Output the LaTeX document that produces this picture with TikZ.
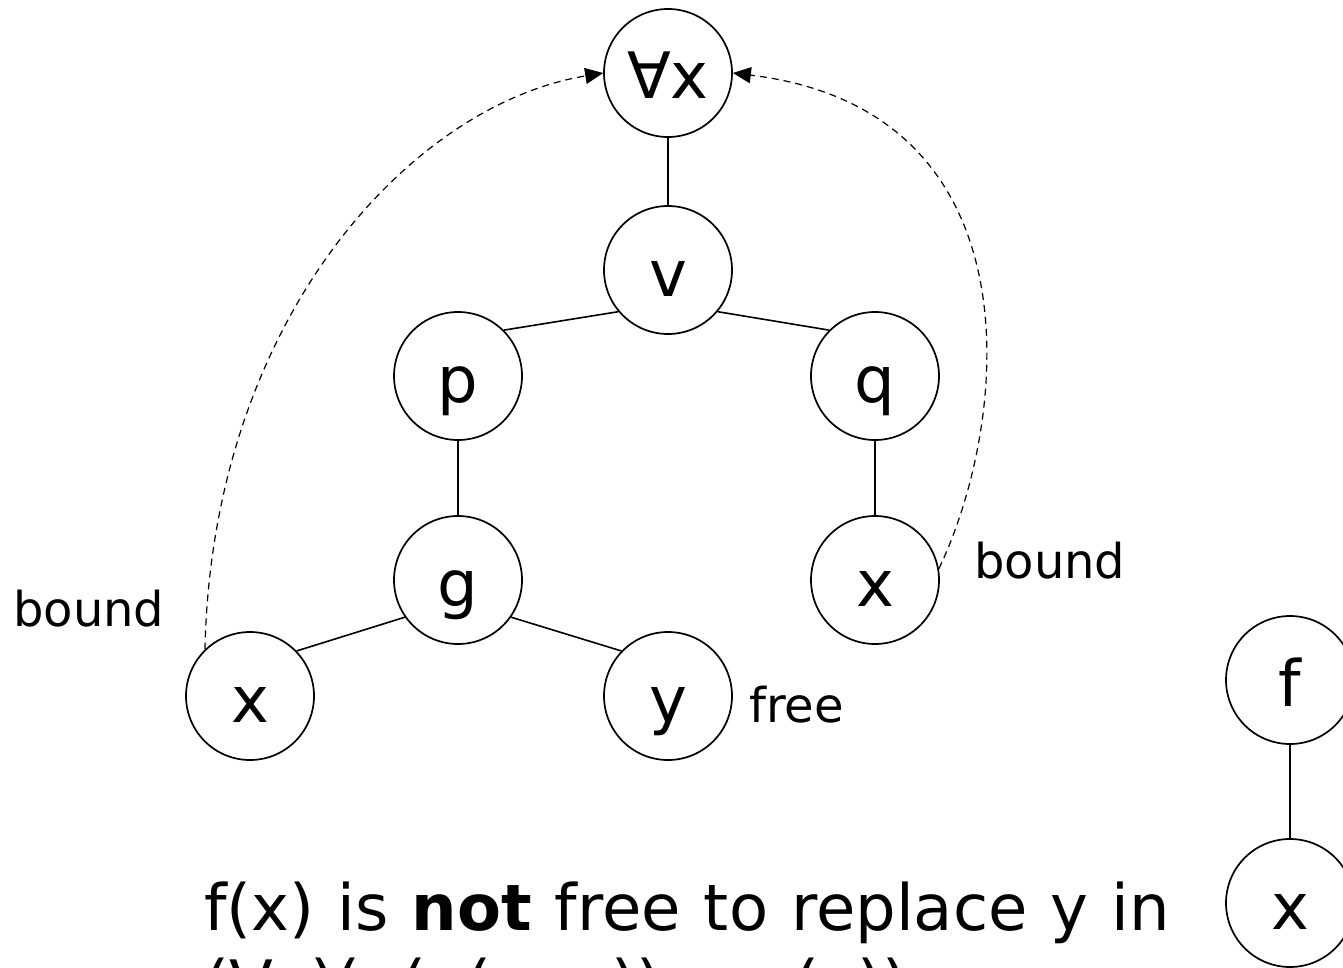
\documentclass[tikz,border=0pt]{standalone}
\usepackage{fontspec}
\setmainfont{DejaVu Sans}
\usetikzlibrary{arrows.meta}
\begin{document}
\begin{tikzpicture}[x=1pt,y=-1pt,
  tnode/.style={circle,draw,line width=1.7pt,minimum size=128pt,inner sep=0pt,
    font=\fontsize{64}{64}\selectfont,text height=62pt,text depth=10pt},
  edge/.style={line width=1.6pt},
  bnd/.style={line width=1.2pt,dash pattern=on 7pt off 5pt,-{Triangle[length=18pt,width=16pt]}},
  lbl/.style={font=\fontsize{48}{48}\selectfont,anchor=base west,inner sep=0pt},
  txt/.style={font=\fontsize{64}{64}\selectfont,anchor=base west,inner sep=0pt}
]
\useasboundingbox (0,0) rectangle (1343,968);
\clip (0,0) rectangle (1343,968);

\node[tnode] (all) at (668,73) {∀x};
\node[tnode] (v) at (668,270) {v};
\node[tnode] (p) at (458,376) {p};
\node[tnode] (q) at (875,376) {q};
\node[tnode] (g) at (458,580) {g};
\node[tnode] (xr) at (875,580) {x};
\node[tnode] (xl) at (250,696) {x};
\node[tnode] (y) at (668,696) {y};
\node[tnode] (f) at (1290,680) {f};
\node[tnode] (xb) at (1290,903) {x};

\draw[edge] (all) -- (v);
\draw[edge] (v.220) -- (p.45);
\draw[edge] (v.320) -- (q.135);
\draw[edge] (p) -- (g);
\draw[edge] (q) -- (xr);
\draw[edge] (g.215) -- (xl.44);
\draw[edge] (g.325) -- (y.136);
\draw[edge] (f) -- (xb);

\draw[bnd] (xl.134) .. controls (212,320) and (410,105) .. (all.west);
\draw[bnd] (xr.10) .. controls (1010,420) and (1040,110) .. (all.east);

\node[lbl] (lb1) at (13,626) {bound};
\node[lbl] (lb2) at (974,578) {bound};
\node[lbl] (lb3) at (749,722) {free};

\node[txt] (t1) at (204,930) {\spaceskip=23pt f(x) is \textbf{not} free to replace y in};
\node[txt] (t2) at (204,1006) {\spaceskip=23pt (∀x)(p(g(x, y)) ∨ q(x))};
\end{tikzpicture}
\end{document}
